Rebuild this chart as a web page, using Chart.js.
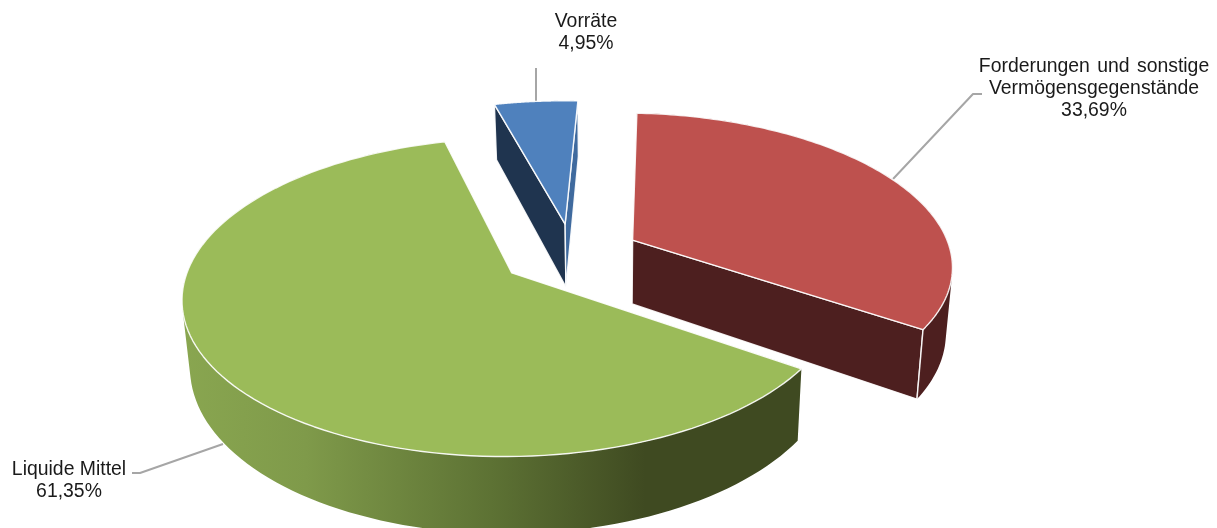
<!DOCTYPE html>
<html>
<head>
<meta charset="utf-8">
<style>
  html, body { margin: 0; padding: 0; background: #fff; }
  canvas { display: block; }
</style>
<script src="https://cdn.jsdelivr.net/npm/chart.js@4"></script>
</head>
<body>
<canvas id="pieChart" width="1217" height="528"></canvas>
<script>
var categories = [["Forderungen und sonstige", "Vermögensgegenstände"], ["Liquide Mittel"], ["Vorräte"]];
var shares = [33.69, 61.35, 4.95];

var topColors = ["#be514e", "#9bbb59", "#4f81bd"];
var startFaceColors = ["#4d1f1f", "#3f4a21", "#1f344f"];
var endFaceColors = ["#4d1f1f", "#3f4a21", "#3f6a9e"];

// chart is flat in Chart.js, so the arcs get projected onto a tilted plane
var view = { cx: 554, cy: 257.6, fx: 320, fy: 151, k: 0.15 };
var explode = [[0.25, -0.118], [-0.13, 0.1], [0.036, -0.23]];
var drawOrder = [2, 0, 1];

var labelPos = [
  { x: 1094, y: 72, wordSpacing: "2px" },
  { x: 69, y: 475 },
  { x: 586, y: 27 }
];
var leaders = [
  [[893, 179], [973, 94], [982, 94]],
  [[223, 444], [140, 473], [132, 473]],
  [[536, 68], [536, 101]]
];

function project(u, v) {
  var d = 1 - view.k * v;
  return { x: view.cx + view.fx * u / d, y: view.cy + view.fy * v / d };
}

function drop(p) {
  return { x: p.x + (605 - p.x) * 0.019, y: p.y + 49 + 0.062 * p.y };
}

function tracePath(ctx, pts) {
  ctx.beginPath();
  pts.forEach(function (p, i) {
    if (i === 0) ctx.moveTo(p.x, p.y);
    else ctx.lineTo(p.x, p.y);
  });
  ctx.closePath();
}

function paint(ctx, pts, fill) {
  tracePath(ctx, pts);
  ctx.fillStyle = fill;
  ctx.fill();
  ctx.strokeStyle = "rgba(255,255,255,0.9)";
  ctx.lineWidth = 1.4;
  ctx.stroke();
}

// one quad per rim step in a single path, all wound the same way, so there are no seams
function paintWall(ctx, rim, fill) {
  ctx.beginPath();
  for (var s = 0; s < rim.length - 1; s++) {
    var a = rim[s], b = rim[s + 1], c = drop(b), d = drop(a);
    var area = (b.x - a.x) * (d.y - a.y) - (b.y - a.y) * (d.x - a.x);
    var quad = area > 0 ? [a, b, c, d] : [d, c, b, a];
    ctx.moveTo(quad[0].x, quad[0].y);
    ctx.lineTo(quad[1].x, quad[1].y);
    ctx.lineTo(quad[2].x, quad[2].y);
    ctx.lineTo(quad[3].x, quad[3].y);
    ctx.closePath();
  }
  ctx.fillStyle = fill;
  ctx.fill();

  var last = rim[rim.length - 1];
  var end = drop(last);
  ctx.beginPath();
  ctx.moveTo(last.x, last.y);
  ctx.lineTo(end.x, end.y);
  ctx.strokeStyle = "rgba(255,255,255,0.9)";
  ctx.lineWidth = 1.4;
  ctx.stroke();
}

function drawSlice(ctx, arc, i) {
  var ex = explode[i];
  var apex = project(ex[0], ex[1]);
  var rim = [];
  for (var s = 0; s <= 120; s++) {
    var a = arc.startAngle + (arc.endAngle - arc.startAngle) * s / 120;
    rim.push(project(ex[0] + Math.cos(a), ex[1] + Math.sin(a)));
  }
  var first = rim[0], last = rim[rim.length - 1];

  paint(ctx, [apex, first, drop(first), drop(apex)], startFaceColors[i]);
  paint(ctx, [apex, last, drop(last), drop(apex)], endFaceColors[i]);

  var fill = startFaceColors[i];
  if (i === 1) {
    fill = ctx.createLinearGradient(182, 0, 800, 0);
    fill.addColorStop(0, "#89a650");
    fill.addColorStop(0.2, "#7f9a4a");
    fill.addColorStop(0.5, "#5d7234");
    fill.addColorStop(0.75, "#3f4a21");
    fill.addColorStop(1, "#3f4a21");
  }
  if (i !== 2) paintWall(ctx, rim, fill);

  paint(ctx, [apex].concat(rim), topColors[i]);
}

var pie3d = {
  id: "pie3d",
  beforeDatasetsDraw: function (chart) {
    var ctx = chart.ctx;
    var arcs = chart.getDatasetMeta(0).data;
    ctx.save();
    ctx.lineJoin = "round";
    leaders.forEach(function (line) {
      ctx.beginPath();
      line.forEach(function (p, i) {
        if (i === 0) ctx.moveTo(p[0], p[1]);
        else ctx.lineTo(p[0], p[1]);
      });
      ctx.strokeStyle = "#a6a6a6";
      ctx.lineWidth = 2;
      ctx.stroke();
    });
    drawOrder.forEach(function (i) {
      drawSlice(ctx, arcs[i], i);
    });

    ctx.fillStyle = "#1a1a1a";
    ctx.font = "19.4px 'Liberation Sans'";
    ctx.textAlign = "center";
    categories.forEach(function (lines, i) {
      var pos = labelPos[i];
      var rows = lines.concat(shares[i].toFixed(2).replace(".", ",") + "%");
      rows.forEach(function (row, r) {
        ctx.wordSpacing = r === 0 && pos.wordSpacing ? pos.wordSpacing : "0px";
        ctx.fillText(row, pos.x, pos.y + r * 22);
      });
    });
    ctx.restore();
    return false;
  }
};

new Chart(document.getElementById("pieChart"), {
  type: "pie",
  data: {
    labels: categories,
    datasets: [{ data: shares, backgroundColor: topColors }]
  },
  options: {
    responsive: false,
    animation: false,
    rotation: 3,
    plugins: { legend: { display: false }, tooltip: { enabled: false } }
  },
  plugins: [pie3d]
});
</script>
</body>
</html>
